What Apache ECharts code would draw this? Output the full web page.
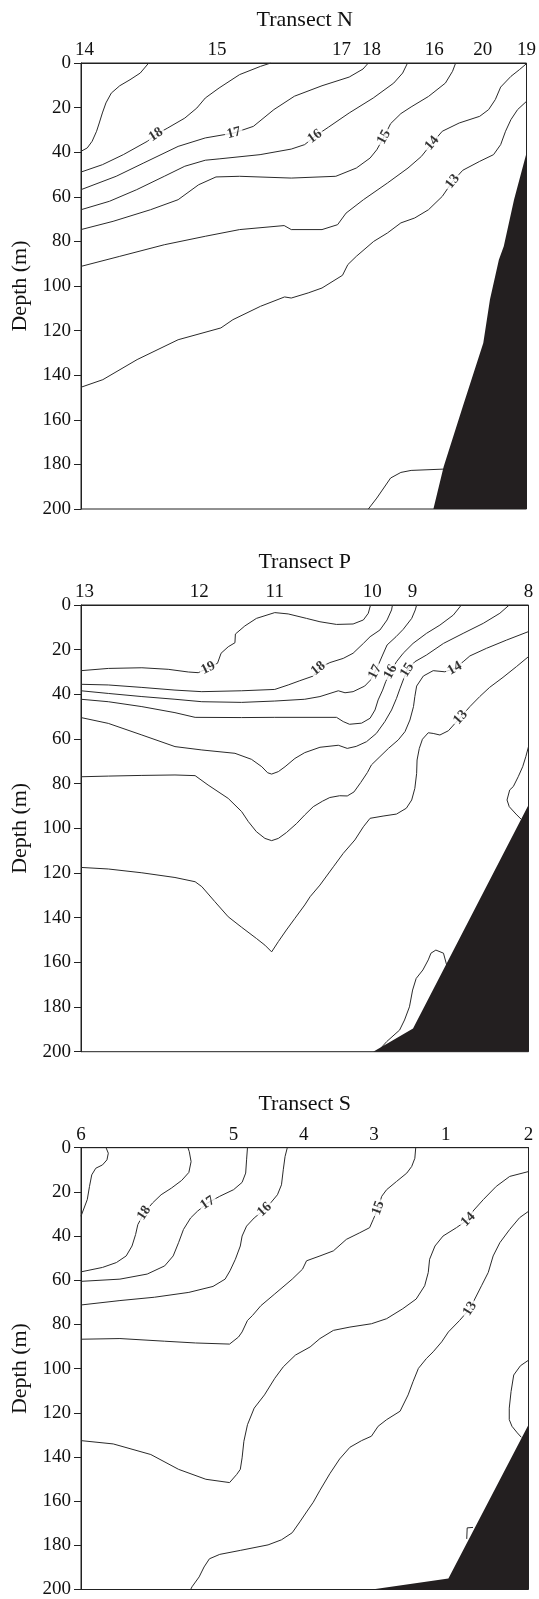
<!DOCTYPE html>
<html>
<head>
<meta charset="utf-8">
<script src="https://cdn.jsdelivr.net/npm/echarts@6/dist/echarts.min.js"></script>
<style>
  html, body { margin: 0; padding: 0; background: #fff; }
  #chart { width: 539px; height: 1599px; }
</style>
</head>
<body>
<div id="chart"></div>
<script>
const SERIF = "'Liberation Serif', 'Times New Roman', serif"

// station positions along each transect (0 = first station, 100 = last)
const stationPosN = [0.8, 30.5, 58.5, 65.2, 79.3, 90.2, 100]
const stationNameN = ['14', '15', '17', '18', '16', '20', '19']
const stationPosP = [0.8, 26.4, 43.3, 65.1, 74.1, 100]
const stationNameP = ['13', '12', '11', '10', '9', '8']
const stationPosS = [0, 34.1, 49.8, 65.5, 81.5, 100]
const stationNameS = ['6', '5', '4', '3', '1', '2']

// isotherms [distance, depth m] -- Transect N
const n19 = [[15.2,0],[13.3,4.5],[11.0,7.5],[8.7,10.2],[6.8,13.5],[5.6,17.9],[4.8,22.4],[4.1,26.9],[3.5,30.6],[2.5,35.1],[1.4,38.1],[0,39.6]]
const n18 = [[0,48.9],[4.8,45.6],[9.5,41.1],[14.9,35.1],[16.8,32.1],[19.5,29.1],[23.3,24.7],[26.0,20.2],[27.9,15.7],[31.0,11.2],[35.6,5.2],[40.3,1.5],[42.6,0]]
const n17 = [[0,56.8],[7.9,50.8],[14.1,44.8],[21.8,37.4],[27.9,33.6],[34.3,31.4],[38.7,28.4],[43.3,20.9],[47.9,14.9],[54.1,10.2],[60.2,6.3],[63.3,2.7],[64.5,0]]
const n16 = [[0,65.8],[6.4,62.0],[12.5,56.8],[18.7,50.8],[23.3,46.3],[27.9,43.6],[31.0,43.0],[40.2,41.1],[47.2,38.6],[50.2,36.6],[52.5,32.9],[55.6,28.7],[60.2,22.4],[65.6,15.7],[70.2,9.0],[72.2,4.5],[73.3,0]]
const n15 = [[0,74.7],[7.2,71.0],[15.6,65.8],[21.8,61.3],[26.4,54.6],[30.3,51.1],[35.6,50.8],[47.2,51.6],[57.2,50.8],[61.8,47.1],[64.9,42.6],[66.4,38.9],[68.0,33.2],[69.5,27.2],[71.8,22.7],[74.1,19.7],[78.0,15.0],[81.8,9.0],[83.4,3.7],[84.1,0]]
const n14 = [[0,91.2],[8.7,86.7],[18.7,81.5],[27.9,77.7],[35.6,74.7],[45.6,72.9],[47.2,74.7],[54.1,74.7],[57.6,72.5],[59.5,67.3],[63.4,61.3],[68.8,53.8],[73.4,47.1],[76.4,41.9],[78.8,35.9],[81.1,30.6],[84.9,26.9],[89.5,23.9],[91.5,20.9],[93.0,16.4],[94.2,10.8],[96.5,6.0],[98.4,3.0],[100,0.3]]
const n13 = [[0,145.4],[4.9,142.0],[12.6,133.0],[21.8,124.1],[31.4,118.8],[34.1,115.1],[40.3,109.1],[45.7,104.9],[47.2,105.4],[51.0,103.1],[54.1,100.9],[58.7,95.2],[59.9,90.4],[61.8,86.7],[65.7,80.0],[68.8,76.2],[71.8,71.7],[74.9,69.5],[78.0,65.8],[81.1,59.8],[83.4,53.1],[85.7,48.1],[89.5,44.1],[92.6,41.1],[94.2,36.6],[95.3,30.6],[96.5,25.4],[98.0,20.9],[100,17.2]]
const n12 = [[64.5,200],[66.4,195.1],[69.5,186.1],[71.8,183.6],[74.1,182.7],[81.5,182.1]]
const bottomN = [[100,40.4],[97.2,61.3],[94.9,82.2],[93.8,88.2],[91.8,106],[90.3,125.6],[85.7,154],[81.4,181],[79.1,200],[100,200]]
const labelsN = [[16.8,32.1,'18'],[34.3,31.4,'17'],[52.5,32.9,'16'],[68.0,33.2,'15'],[78.8,35.9,'14'],[83.4,53.1,'13']]

// Transect P
const p19 = [[0,29.4],[6.1,28.4],[13.6,28.1],[19.5,28.8],[24.0,30.0],[26.2,30.3],[28.4,28.2],[30.5,26.1],[31.3,21.6],[32.9,18.7],[34.4,16.9],[34.5,13.0],[36.6,9.4],[39.2,6.0],[43.3,3.4],[46.3,4.0],[50.4,6.0],[53.4,7.5],[57.1,8.7],[60.8,8.5],[63.1,6.7],[64.2,3.7],[64.7,0]]
const p18 = [[0,35.5],[6.1,35.8],[13.6,36.9],[21.0,38.1],[27.0,38.8],[35.9,38.4],[43.3,37.8],[46.3,35.8],[48.9,33.9],[51.9,31.8],[53.0,28.4],[55.6,25.8],[58.6,23.9],[60.8,21.6],[63.1,17.2],[64.6,14.2],[66.8,11.2],[68.4,6.7],[69.4,2.2],[69.6,0]]
const p17 = [[0,38.4],[6.1,39.6],[13.6,41.0],[21.0,42.2],[27.0,43.3],[35.9,43.6],[43.3,43.0],[50.0,42.2],[53.4,41.0],[57.5,38.4],[59.0,39.3],[60.8,38.8],[63.4,36.3],[64.7,33.6],[65.7,29.9],[66.6,26.1],[67.4,22.4],[68.4,17.9],[70.4,14.2],[72.0,10.9],[73.9,6.0],[74.7,2.2],[75.0,0]]
const p16 = [[0,42.2],[6.1,43.3],[13.6,45.5],[21.0,48.2],[25.5,50.3],[35.9,50.4],[43.3,50.3],[57.1,50.3],[58.6,52.2],[60.0,53.4],[62.7,52.9],[64.6,50.7],[65.7,47.0],[66.4,42.5],[67.4,38.1],[68.1,34.3],[69.2,29.9],[70.5,25.4],[72.0,21.6],[74.2,17.2],[77.2,12.7],[80.2,9.0],[83.2,4.5],[85.0,0]]
const p15 = [[0,50.4],[6.1,53.0],[13.6,58.2],[21.0,63.4],[27.0,64.9],[34.4,66.4],[38.1,69.1],[40.4,72.4],[41.7,75.1],[42.6,75.7],[44.1,74.6],[45.6,72.4],[47.8,68.7],[50.0,66.1],[53.4,63.7],[57.5,62.8],[59.5,64.2],[61.5,63.3],[63.8,61.2],[66.0,57.5],[67.9,52.2],[69.4,47.0],[70.5,41.8],[71.3,37.3],[72.0,33.6],[72.9,29.1],[74.6,25.4],[77.2,22.4],[81.0,17.2],[85.4,12.7],[89.9,8.2],[93.6,3.7],[95.7,0]]
const p14 = [[0,76.9],[6.1,76.6],[13.6,76.3],[21.0,76.1],[25.5,76.4],[28.4,80.6],[32.9,86.6],[35.9,92.5],[37.4,97.0],[39.2,101.5],[41.1,104.5],[42.6,105.5],[44.1,104.5],[45.9,101.9],[48.2,97.8],[50.0,94.0],[51.9,90.3],[54.0,87.8],[55.6,86.2],[57.8,85.4],[59.5,85.5],[61.0,83.7],[62.5,79.5],[64.0,75.0],[64.9,71.6],[66.8,67.9],[68.7,64.2],[70.9,60.4],[72.4,56.7],[73.5,51.5],[74.3,45.5],[74.6,41.0],[75.0,36.3],[76.5,31.8],[78.7,29.4],[81.3,29.9],[83.5,28.4],[85.4,25.4],[86.9,22.8],[90.6,19.4],[95.1,15.7],[100,11.9]]
const p13 = [[0,117.5],[6.1,118.2],[13.6,119.9],[21.0,122.0],[25.5,123.9],[27.0,126.1],[29.9,132.8],[32.9,139.6],[35.9,144.3],[39.2,149.3],[41.1,152.3],[42.6,155.3],[44.1,150.7],[45.9,145.5],[47.8,140.3],[50.0,134.3],[51.2,130.6],[53.4,125.4],[56.4,117.2],[58.6,111.2],[61.2,105.2],[63.1,99.3],[64.6,95.5],[67.5,94.5],[70.5,93.6],[72.7,91.0],[73.9,87.3],[74.6,82.1],[75.0,75.4],[75.1,69.4],[75.6,64.2],[76.3,60.1],[77.6,57.2],[78.7,57.5],[80.2,58.2],[82.1,56.3],[84.8,50.3],[86.9,45.5],[89.1,41.0],[91.3,36.9],[94.3,32.4],[97.3,27.6],[100,23.1]]
const p12 = [[100,63.4],[99.4,67.9],[98.7,72.4],[97.7,76.9],[96.6,81.3],[95.8,82.8],[95.2,87.3],[95.7,90.3],[97.2,93.6],[98.4,96.0]]
const p11 = [[81.9,162.6],[81.0,155.9],[79.3,154.5],[78.2,155.9],[77.6,158.9],[76.4,163.4],[74.9,167.2],[74.1,172.4],[73.4,179.9],[72.3,185.8],[71.2,190.3],[68.3,195.5],[66.6,199.3]]
const bottomP = [[100,89.6],[74.2,189.6],[65.3,200],[100,200]]
const labelsP = [[28.4,28.2,'19'],[53.0,28.4,'18'],[65.7,29.9,'17'],[69.2,29.9,'16'],[72.9,29.1,'15'],[83.5,28.4,'14'],[84.8,50.3,'13']]

// Transect S
const s19 = [[5.6,0],[6.1,2.5],[5.8,5.5],[4.8,7.8],[3.3,9.3],[2.4,12.3],[1.9,17.5],[1.4,23.5],[0,31.0]]
const s18 = [[0,56.2],[4.8,54.2],[7.9,52.0],[10.1,49.0],[11.4,44.5],[12.2,39.3],[12.7,34.8],[14.1,29.5],[16.0,25.0],[17.9,21.3],[20.2,18.3],[22.5,14.8],[24.1,11.2],[24.6,6.3],[24.2,1.8],[23.9,0]]
const s17 = [[0,60.5],[8.7,59.5],[14.8,57.2],[18.7,53.5],[20.6,49.0],[21.8,43.0],[22.9,37.0],[24.5,31.8],[26.0,28.8],[28.3,25.0],[31.0,22.0],[34.1,19.0],[36.0,15.7],[36.8,11.5],[37.0,5.5],[37.2,0]]
const s16 = [[0,71.2],[8.7,69.2],[16.4,67.7],[24.1,65.5],[29.5,62.8],[32.2,59.5],[33.3,55.7],[34.5,50.5],[35.6,44.5],[36.0,40.0],[37.0,35.5],[38.7,31.8],[41.0,28.0],[42.5,24.7],[43.9,21.3],[44.8,16.8],[45.2,10.0],[45.6,4.0],[46.1,0]]
const s15 = [[0,86.7],[8.7,86.4],[18.7,87.6],[25.6,88.4],[33.2,88.9],[35.2,85.7],[36.0,83.4],[37.2,78.2],[38.3,76.0],[40.2,71.5],[43.3,66.2],[47.2,59.5],[49.5,55.0],[50.4,51.2],[53.4,49.0],[56.4,46.7],[59.3,41.5],[62.3,38.5],[64.5,36.2],[65.3,32.5],[66.4,27.3],[67.2,22.0],[68.3,19.0],[70.5,15.3],[72.8,11.5],[73.9,8.5],[74.6,4.8],[74.8,0]]
const s14 = [[0,132.6],[7.2,134.1],[15.6,138.9],[21.8,145.6],[27.9,150.1],[33.2,151.6],[34.8,147.9],[35.6,145.6],[36.0,140.4],[36.4,132.9],[37.2,125.4],[38.7,117.9],[41.0,111.9],[43.3,104.4],[45.2,99.2],[47.9,93.9],[51.2,90.2],[53.4,86.4],[56.4,82.7],[60.1,81.2],[64.9,79.7],[68.3,77.4],[71.9,72.9],[74.9,68.5],[76.8,62.5],[77.6,56.5],[77.9,50.5],[79.1,44.5],[80.9,40.0],[83.9,36.2],[86.5,32.5],[87.6,28.7],[89.9,23.5],[92.8,17.5],[95.8,13.0],[100,10.8]]
const s13 = [[24.5,200],[24.8,198.8],[26.4,194.3],[27.5,189.8],[28.7,186.1],[31.0,184.1],[35.6,182.3],[41.8,179.8],[44.8,177.5],[47.2,174.3],[48.9,169.4],[50.4,164.9],[51.9,160.5],[53.4,155.1],[55.6,147.6],[57.8,140.9],[60.1,135.6],[62.7,132.6],[64.9,130.6],[66.4,126.1],[68.3,123.1],[71.3,119.3],[73.1,111.9],[74.2,105.9],[75.4,99.9],[77.2,95.4],[78.7,92.4],[80.6,87.9],[82.1,83.4],[84.6,78.2],[86.9,72.9],[89.5,62.5],[91.0,56.5],[92.1,49.0],[93.6,43.0],[95.8,37.0],[98.0,31.7],[100,28.8]]
const s12 = [[100,96.2],[98.2,98.7],[96.7,102.9],[96.1,110.4],[95.7,117.9],[95.7,123.1],[96.3,126.1],[97.5,129.1],[98.4,131.1]]
const s11 = [[87.6,171.9],[86.3,172.1],[86.2,177.1]]
const bottomS = [[100,125.4],[82.1,195.0],[65.0,200],[100,200]]
const labelsS = [[14.1,29.5,'18'],[28.3,25.0,'17'],[41.0,28.0,'16'],[66.4,27.3,'15'],[86.5,32.5,'14'],[86.9,72.9,'13']]

const panels = [
  {title: 'Transect N', pos: stationPosN, names: stationNameN, lines: [n19, n18, n17, n16, n15, n14, n13, n12], levels: [19, 18, 17, 16, 15, 14, 13, 12], bottom: bottomN, labels: labelsN, top: 63, height: 446},
  {title: 'Transect P', pos: stationPosP, names: stationNameP, lines: [p19, p18, p17, p16, p15, p14, p13, p12, p11], levels: [19, 18, 17, 16, 15, 14, 13, 12, 11], bottom: bottomP, labels: labelsP, top: 605, height: 446.7},
  {title: 'Transect S', pos: stationPosS, names: stationNameS, lines: [s19, s18, s17, s16, s15, s14, s13, s12, s11], levels: [19, 18, 17, 16, 15, 14, 13, 12, 11], bottom: bottomS, labels: labelsS, top: 1147.7, height: 445}
]

const INK = '#222'
const GRID_LEFT = 81
const GRID_RIGHT = 10.5

const option = {
  animation: false,
  backgroundColor: '#fff',
  title: panels.map(p => ({
    text: p.title, left: GRID_LEFT + (539 - GRID_LEFT - GRID_RIGHT) / 2, top: p.top - 54, textAlign: 'center', padding: 0,
    textStyle: {fontFamily: SERIF, fontSize: 22, fontWeight: 'normal', color: '#111'}
  })),
  grid: panels.map(p => ({
    left: GRID_LEFT, right: GRID_RIGHT, top: p.top, height: p.height,
    show: true, borderColor: INK, borderWidth: 1, backgroundColor: 'transparent'
  })),
  xAxis: panels.map((p, i) => ({
    gridIndex: i, type: 'value', position: 'top', min: 0, max: 100,
    axisLine: {show: true, lineStyle: {color: INK, width: 1}},
    axisTick: {show: false},
    splitLine: {show: false},
    axisLabel: {
      customValues: p.pos,
      formatter: v => p.names[p.pos.indexOf(v)],
      fontFamily: SERIF, fontSize: 19, color: '#111', margin: 3
    }
  })),
  yAxis: panels.map((p, i) => ({
    gridIndex: i, type: 'value', inverse: true, min: 0, max: 200, interval: 20,
    name: 'Depth (m)', nameLocation: 'middle', nameGap: 47,
    nameTextStyle: {fontFamily: SERIF, fontSize: 22, color: '#111'},
    axisLine: {show: true, lineStyle: {color: INK, width: 1}},
    axisTick: {show: true, length: 7, lineStyle: {color: INK}},
    splitLine: {show: false},
    axisLabel: {fontFamily: SERIF, fontSize: 19, color: '#111', margin: 10}
  })),
  series: []
}

panels.forEach((p, i) => {
  p.lines.forEach((pts, k) => {
    option.series.push({
      name: p.title + ' ' + p.levels[k], type: 'line', xAxisIndex: i, yAxisIndex: i,
      data: pts, showSymbol: false, symbol: 'none', silent: true, z: 2,
      lineStyle: {color: '#2a2a2a', width: 1}
    })
  })
  option.series.push({
    type: 'custom', xAxisIndex: i, yAxisIndex: i, silent: true, z: 4,
    data: [[0, 0]],
    renderItem: (params, api) => ({
      type: 'polygon',
      shape: {points: p.bottom.map(q => api.coord(q))},
      style: {fill: '#231f20'}
    })
  })
  option.series.push({
    type: 'scatter', xAxisIndex: i, yAxisIndex: i, silent: true, z: 6,
    symbol: 'circle', symbolSize: 2, itemStyle: {color: 'rgba(255,255,255,0)'},
    data: p.labels.map(l => ({value: [l[0], l[1]], name: l[2]})),
    label: {
      show: true, position: 'inside', formatter: '{b}',
      fontFamily: SERIF, fontSize: 14, fontWeight: 'bold', color: '#000',
      backgroundColor: '#fff', padding: [0, 2]
    }
  })
})

const chart = echarts.init(document.getElementById('chart'), null, {renderer: 'canvas'})
chart.setOption(option)

// rotate each isotherm label along its line
function labelAngle(gi, pts, l) {
  let best = 0, bd = Infinity
  pts.forEach((q, j) => {
    const d = (q[0] - l[0]) ** 2 + (q[1] - l[1]) ** 2
    if (d < bd) { bd = d; best = j }
  })
  const a = chart.convertToPixel({gridIndex: gi}, pts[Math.max(0, best - 1)])
  const b = chart.convertToPixel({gridIndex: gi}, pts[Math.min(pts.length - 1, best + 1)])
  let ang = Math.atan2(-(b[1] - a[1]), b[0] - a[0]) * 180 / Math.PI
  if (ang > 90) ang -= 180
  if (ang < -90) ang += 180
  return Math.round(ang)
}

const series = option.series.map(s => {
  if (s.type !== 'scatter') return {}
  const i = s.xAxisIndex
  const p = panels[i]
  return {
    data: p.labels.map(l => {
      const pts = p.lines[p.levels.indexOf(+l[2])]
      return {value: [l[0], l[1]], name: l[2], label: {rotate: labelAngle(i, pts, l)}}
    })
  }
})
chart.setOption({series})
</script>
</body>
</html>
